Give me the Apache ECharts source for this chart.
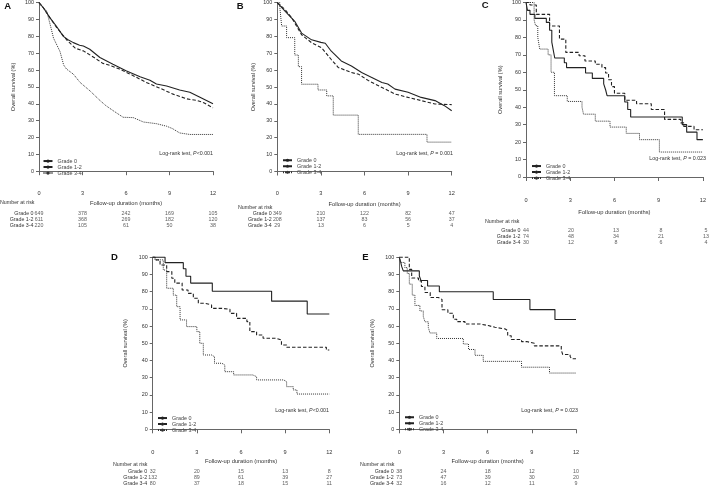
<!DOCTYPE html>
<html>
<head>
<meta charset="utf-8">
<script src="https://cdn.jsdelivr.net/npm/echarts@6/dist/echarts.min.js"></script>
<style>html,body{margin:0;padding:0;background:#fff}#c{width:709px;height:486px}</style>
</head>
<body>
<div id="c"></div>
<script>
// ---------- DATA ----------
const gradeNames = ['Grade 0', 'Grade 1-2', 'Grade 3-4'];
const riskTimes = [0, 3, 6, 9, 12];
const xTicks = [0, 3, 6, 9, 12];

// Panel A survival [month, %]
const A_grade0 = [[0,100],[0.3,97],[0.76,91],[1.2,86],[1.68,80],[2.0,78],[2.37,76.3],[2.8,74.8],[3.06,74.3],[3.5,72.4],[4.2,67.5],[5.1,63.5],[6.0,59.6],[6.97,56],[7.65,54],[8.1,51.8],[8.8,50.6],[9.7,48.2],[10.4,46.9],[11.1,43.9],[12,40]];
const A_grade12 = [[0,100],[0.3,97],[0.76,91],[1.2,85.5],[1.9,78],[2.5,73],[3.06,71.4],[3.74,67.8],[4.4,64],[5.0,62.5],[5.55,60.6],[6.5,56.7],[7.4,52.7],[8.3,49.4],[9.2,45.9],[10.2,42.9],[10.9,42],[11.4,40.5],[12,37.6]];
const A_grade34 = [[0,100],[0.3,97],[0.53,95],[0.8,86],[1.0,79],[1.45,71],[1.7,63],[1.9,60.6],[2.37,57.6],[2.83,52.7],[3.5,47.8],[4.2,42],[4.6,39],[5.1,36],[5.8,32],[6.5,31.8],[7.2,29.2],[8.1,28.2],[8.8,26.7],[9.2,25.3],[9.7,22.7],[10.4,21.8],[12,21.8]];
// Panel B
const B_grade0 = [[0,100],[0.53,95],[1.2,89],[1.67,82],[2.36,78],[3.0,76.5],[3.3,76],[3.7,71.4],[4.4,65.5],[5.1,62.5],[5.8,58.6],[6.5,55.7],[7.2,52.7],[7.6,51.8],[8.1,48.8],[9.0,46.9],[9.9,43.9],[10.85,42],[11.5,39],[12,36]];
const B_grade12 = [[0,100],[0.53,96],[1.0,91],[1.67,81],[2.36,76.3],[3.05,73.3],[3.7,66.5],[4.2,61.6],[5.1,58.6],[5.6,57.6],[6.3,53.7],[7.2,49.8],[8.1,45.9],[9.0,43.9],[9.9,42],[10.85,40],[12,39.6]];
const B_grade34 = [[0,100],[0.18,96.6],[0.3,86.2],[0.64,79.3],[1.2,69],[1.45,62.1],[1.67,51.7],[2.8,48.3],[3.4,44.8],[3.85,33.4],[5.57,22],[10.3,17.4],[12,17.4]];
// Panel C
const C_grade0 = [[0,100],[0.1,95.5],[0.27,93.2],[0.6,90.9],[1.38,88.6],[1.6,84.1],[1.75,77.3],[1.85,72.7],[1.95,68.2],[2.6,65.5],[2.75,62.7],[4.04,59.6],[4.5,56.5],[5.27,53.4],[5.4,50],[5.5,46.6],[6.7,43],[6.9,38.7],[7.1,34.4],[10.6,30],[10.9,25.7],[11.6,21.4],[12,21.4]];
const C_grade12 = [[0,100],[0.27,98.6],[0.7,93.2],[1.6,86.5],[2.27,79],[2.7,71.4],[3.6,69.5],[4.0,66.5],[4.7,64.6],[5.15,62.7],[5.4,59.6],[5.6,55.7],[5.8,51.8],[6.0,48],[6.7,44],[7.5,42],[8.5,38.7],[9.4,33],[10.5,31],[10.7,29],[11.4,27.1],[12,27.1]];
const C_grade34 = [[0,100],[0.55,90],[0.65,86.7],[0.8,80],[0.93,73.3],[1.5,70],[1.7,60],[1.93,46.6],[2.8,43.3],[3.8,40],[3.9,36],[4.7,32],[5.7,28.6],[6.8,25],[7.7,21.4],[9.05,14.3],[12,14.3]];
// Panel D
const D_grade0 = [[0,100],[0.84,96.9],[2.08,93.3],[2.26,89],[2.58,85],[4.05,80.3],[8.08,74.5],[10.5,67],[12,67]];
const D_grade12 = [[0,100],[0.16,98.5],[0.5,95.5],[0.95,91.7],[1.3,87.8],[1.5,85],[2.0,81],[2.4,79],[2.76,76.2],[3.1,73.3],[3.55,72.3],[4.0,70.3],[4.7,69.8],[5.25,67.4],[5.7,64.5],[6.4,62.6],[6.6,56.8],[7.06,54.8],[7.5,52.9],[8.4,51.9],[8.75,49],[9.1,47.7],[11.8,46.1],[12,46.1]];
const D_grade34 = [[0,100],[0.16,98.5],[0.72,92.6],[0.95,82],[1.4,78],[1.63,71.3],[1.86,63.6],[2.3,59.7],[3.0,56.8],[3.2,50],[3.44,43.2],[4.0,42.2],[4.2,38.4],[4.7,37.4],[4.9,33.5],[5.5,31.6],[6.8,30.6],[7.06,28.7],[8.9,27.7],[9.1,24.8],[9.55,22.9],[9.8,20.5],[12,20.5]];
// Panel E
const E_grade0 = [[0,100],[0.09,97.4],[0.16,94.7],[0.27,92.1],[1.36,89.2],[1.47,86.5],[1.92,83.3],[2.72,80],[6.38,75.5],[8.87,69.6],[10.57,63.8],[12,63.8]];
const E_grade12 = [[0,100],[0.68,93],[0.84,88],[1.3,86.3],[1.5,83],[1.74,79.5],[2.1,76.6],[2.65,75.5],[2.9,69.5],[3.3,67.5],[3.67,64],[3.9,62.6],[4.46,61.2],[5.5,60.3],[6.04,59.3],[6.5,58.3],[7.2,57.3],[7.36,54.4],[7.6,52.2],[8.3,51],[8.65,50],[9.17,48.5],[11.0,46],[11.1,43.5],[11.6,42.3],[11.7,41],[12,41]];
const E_grade34 = [[0,100],[0.09,97],[0.38,94],[0.54,90.6],[0.68,84.4],[0.88,78],[1.06,72],[1.4,68.8],[1.63,65.6],[1.74,62.5],[1.97,59.3],[2.08,56],[2.54,52.8],[4.35,49.6],[4.7,46.4],[5.14,43],[5.7,39.5],[8.3,36.1],[10.2,32.7],[12,32.7]];

// Number at risk
const A_risk = [[649,378,242,169,105],[611,368,269,182,120],[220,105,61,50,38]];
const B_risk = [[349,210,122,82,47],[208,137,83,56,37],[29,13,6,5,4]];
const C_risk = [[44,20,13,8,5],[74,48,34,21,13],[30,12,8,6,4]];
const D_risk = [[32,20,15,13,8],[132,89,61,39,27],[80,37,18,15,11]];
const E_risk = [[38,24,18,12,10],[73,47,39,30,20],[32,16,12,11,9]];

const panelLetters = ['A','B','C','D','E'];
const pValueTexts = ['<0.001',' = 0.001',' = 0.023','<0.001',' = 0.023'];

// ---------- LAYOUT / STYLE ----------
const FONT = 'Liberation Sans, Arial, Helvetica, sans-serif';
const TXT = '#333';
const AX = '#666';
const survival = [
  [A_grade0, A_grade12, A_grade34],
  [B_grade0, B_grade12, B_grade34],
  [C_grade0, C_grade12, C_grade34],
  [D_grade0, D_grade12, D_grade34],
  [E_grade0, E_grade12, E_grade34]
];
const risks = [A_risk, B_risk, C_risk, D_risk, E_risk];
const stepped = [[false,false,false],[false,false,true],[true,true,true],[true,true,true],[true,true,true]];
const L = [
  {left:39,   top:2.7,   w:174,   h:168.5, lm:11, ng:21.5, yng:23, tableTop:211,   nar:[0,203],     leg:[42.5,158.3], pv:[213,154], let:[4.3,6.3]},
  {left:277.3,top:2.7,   w:174.4, h:168.8, lm:11, ng:22,   yng:21, tableTop:211,   nar:[238,207.5], leg:[282,157.5],  pv:[453,154], let:[236.7,6.3]},
  {left:526,  top:2,     w:180,   h:175,   lm:12.5,ng:24,  yng:23, tableTop:227.7, nar:[485,222],   leg:[531,163.3],  pv:[706,159], let:[481.7,5.5]},
  {left:152.7,top:257.3, w:176.6, h:172,   lm:12, ng:21.5, yng:24, tableTop:468.6, nar:[113,464.3], leg:[157,415.3],  pv:[329,411], let:[111,257.3]},
  {left:399.3,top:257.3, w:176.7, h:172,   lm:12, ng:21.5, yng:24, tableTop:468.6, nar:[360,464.7], leg:[404,414.5],  pv:[578,411], let:[362.3,257.3]}
];
const lineStyles = [
  {color:'#222', width:1.1, type:'solid'},
  {color:'#222', width:1.1, type:[3.5,2]},
  {color:'#333', width:1.0, type:[1,1]}
];

const grid = [], xAxis = [], yAxis = [], series = [], legend = [], graphic = [];
L.forEach((p, i) => {
  grid.push({left:p.left, top:p.top, width:p.w, height:p.h});
  xAxis.push({
    gridIndex:i, type:'value', min:xTicks[0], max:xTicks[xTicks.length-1], interval:3, offset:8,
    axisLine:{lineStyle:{color:AX, width:1}}, axisTick:{length:4, lineStyle:{color:AX}},
    splitLine:{show:false},
    axisLabel:{fontSize:5.6, color:TXT, margin:p.lm, fontFamily:FONT},
    name:'Follow-up duration (months)', nameLocation:'middle', nameGap:p.ng,
    nameTextStyle:{fontSize:5.8, color:TXT, fontFamily:FONT}
  });
  yAxis.push({
    gridIndex:i, type:'value', min:0, max:100, interval:10,
    axisLine:{show:true, lineStyle:{color:AX, width:1}}, axisTick:{show:true, length:3, lineStyle:{color:AX}},
    splitLine:{show:false},
    axisLabel:{fontSize:5.4, color:TXT, margin:5, fontFamily:FONT},
    name:'Overall survival (%)', nameLocation:'middle', nameGap:p.yng,
    nameTextStyle:{fontSize:5.6, color:TXT, fontFamily:FONT}
  });
});
L.forEach((p, i) => {
  const g = 5 + i;
  grid.push({left:p.left, top:p.tableTop, width:p.w, height:18});
  xAxis.push({gridIndex:g, type:'value', min:0, max:12, show:false});
  yAxis.push({gridIndex:g, type:'category', data:gradeNames, inverse:true,
    axisLine:{show:false}, axisTick:{show:false}, splitLine:{show:false},
    axisLabel:{interval:0, hideOverlap:false, fontSize:5.3, color:TXT, margin:5.5, fontFamily:FONT}});
});
L.forEach((p, i) => {
  gradeNames.forEach((gn, k) => {
    series.push({
      type:'line', name:gn, data:survival[i][k], xAxisIndex:i, yAxisIndex:i,
      step: stepped[i][k] ? 'end' : false, symbol:'none', clip:false, silent:true,
      lineStyle: lineStyles[k], itemStyle:{color:lineStyles[k].color}
    });
  });
  const tdata = [];
  gradeNames.forEach((gn, k) => riskTimes.forEach((t, j) => tdata.push([t, gn, risks[i][k][j]])));
  series.push({
    type:'scatter', data:tdata, xAxisIndex:5+i, yAxisIndex:5+i, symbolSize:1, silent:true,
    itemStyle:{color:'rgba(0,0,0,0)'},
    label:{show:true, position:'inside', formatter:(q)=>String(q.value[2]), fontSize:5.3, color:TXT, fontFamily:FONT}
  });
  legend.push({
    left:p.leg[0], top:p.leg[1], orient:'vertical', itemWidth:9, itemHeight:4, itemGap:0.5,
    padding:0, selectedMode:false, data:gradeNames,
    textStyle:{fontSize:5.4, color:'#444', fontFamily:FONT, lineHeight:5.5}
  });
  graphic.push({type:'text', x:p.pv[0], y:p.pv[1], silent:true,
    style:{text:'Log-rank test, {i|P}' + pValueTexts[i], align:'right', verticalAlign:'middle',
      fontSize:5.3, fontFamily:FONT, fill:TXT,
      rich:{i:{fontStyle:'italic', fontSize:5.3, fontFamily:FONT, fill:TXT}}}});
  graphic.push({type:'text', x:p.nar[0], y:p.nar[1], silent:true,
    style:{text:'Number at risk', align:'left', verticalAlign:'middle', fontSize:5.3, fontFamily:FONT, fill:TXT}});
  graphic.push({type:'text', x:p.let[0], y:p.let[1], silent:true,
    style:{text:panelLetters[i], align:'left', verticalAlign:'middle', fontSize:9.5, fontWeight:'bold', fontFamily:FONT, fill:'#111'}});
});

const chart = echarts.init(document.getElementById('c'), null, {renderer:'canvas'});
chart.setOption({
  animation:false, backgroundColor:'#fff',
  textStyle:{fontFamily:FONT},
  grid, xAxis, yAxis, series, legend, graphic
});
</script>
</body>
</html>
